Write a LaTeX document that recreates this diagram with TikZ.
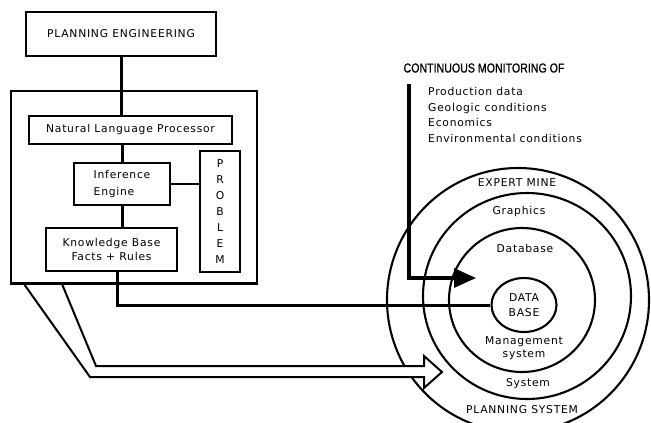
\documentclass[tikz,border=0pt]{standalone}
\usepackage{fontspec}
\setmainfont{DejaVu Sans}
\newfontfamily\plotfont[LetterSpace=7]{DejaVu Sans}
\newfontfamily\headfont[FakeStretch=0.82,FakeBold=0.8]{Liberation Sans}
\usetikzlibrary{arrows.meta,calc,shapes.geometric}

\begin{document}
\begin{tikzpicture}[x=1bp,y=-1bp,
  txt/.style={font=\plotfont\fontsize{10.8}{13}\selectfont},
  box/.style={draw,line width=2bp,inner sep=0pt,txt},
  lbl/.style={txt,inner sep=0pt},
  conn/.style={line width=3bp},
  thin conn/.style={line width=1.7bp},
  ring/.style={line width=2.1bp}]
\useasboundingbox (0,0) rectangle (651,422);

% --- concentric system rings ---
\draw[ring] (518,300) ellipse [x radius=131bp, y radius=132bp];
\draw[ring] (527,296) ellipse [x radius=104bp, y radius=103bp];
\draw[ring] (522,300) ellipse [x radius=73bp, y radius=72bp];
\node[draw,ring,ellipse,minimum width=65bp,minimum height=54bp,inner sep=0pt,
      lbl,align=center,font=\plotfont\fontsize{10.8}{15}\selectfont] (db) at (524,305) {DATA\\BASE};

\node[lbl] (expert) at (517,183) {EXPERT MINE};
\node[lbl] (graphics) at (519,212) {Graphics};
\node[lbl] (database) at (525,248) {Database};
\node[lbl,align=center,font=\plotfont\fontsize{10.8}{13}\selectfont] (mgmt) at (524,348) {Management\\system};
\node[lbl] (system) at (528,384) {System};
\node[lbl] (plansys) at (522,410) {PLANNING SYSTEM};

% --- planning side boxes ---
\node[box,minimum width=190bp,minimum height=44bp] (pe) at (121,34) {PLANNING ENGINEERING};
\node[box,minimum width=246bp,minimum height=192bp] (sys) at (134,187) {};
\node[box,minimum width=203bp,minimum height=28bp] (nlp) at (130.5,130) {Natural Language Processor};
\node[box,minimum width=96bp,minimum height=42bp,align=left,
      font=\plotfont\fontsize{10.8}{17}\selectfont] (ie) at (122,184) {Inference\\Engine};
\node[box,minimum width=40bp,minimum height=121bp,align=center,
      font=\plotfont\fontsize{10.8}{16}\selectfont] (prob) at (220,211.5) {P\\R\\O\\B\\L\\E\\M};
\node[box,minimum width=131bp,minimum height=43bp,align=center,
      font=\plotfont\fontsize{10.8}{15}\selectfont] (kb) at (111.5,249.5) {Knowledge Base\\Facts + Rules};

% --- connectors inside the planning block ---
\draw[conn] (pe.south) -- (pe.south |- nlp.north);
\draw[conn] (ie.north) -- (ie.north |- nlp.south);
\draw[thin conn] (ie.east) -- (ie.east -| prob.west);
\draw[conn] (ie.south) -- (ie.south |- kb.north);

% --- knowledge base to the data base core ---
\draw[conn] ($(kb.south)+(5.5,0)$) |- (db.west);

% --- monitoring feed ---
\node[font=\headfont\fontsize{13}{14}\selectfont,inner sep=0pt] (mon) at (484,68) {CONTINUOUS MONITORING OF};
\node[lbl,align=left,anchor=west,font=\plotfont\fontsize{10.8}{16}\selectfont] (items) at (428,115)
  {Production data\\Geologic conditions\\Economics\\Environmental conditions};
\coordinate (monA) at (409,84);
\coordinate (monB) at (476,278);
\draw[line width=3.2bp,-{Triangle[length=22bp,width=19bp]}] (monA) |- (monB);

% --- hollow arrow from the planning block to the planning system ---
\draw[line width=2bp,fill=white,line join=miter]
  ($(sys.south west)+(14,0)$) -- (90,377) -- (424,377) -- (424,388) -- (442,372)
  -- (424,356) -- (424,366) -- (96,366) -- ($(sys.south west)+(52,0)$);
\draw[line width=2bp] (sys.south west) -- (sys.south east);
\end{tikzpicture}
\end{document}
